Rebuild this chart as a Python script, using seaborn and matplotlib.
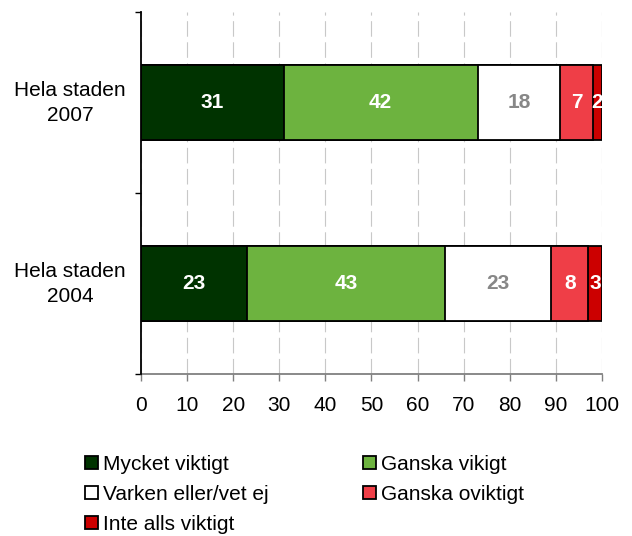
import matplotlib
matplotlib.use("Agg")
import matplotlib.pyplot as plt
from matplotlib.patches import Patch
from matplotlib.transforms import ScaledTranslation
import seaborn as sns
import pandas as pd
import numpy as np

categories = ["Hela staden\n2007", "Hela staden\n2004"]
series = ["Mycket viktigt", "Ganska vikigt", "Varken eller/vet ej",
          "Ganska oviktigt", "Inte alls viktigt"]
mycket = [31, 23]
ganska = [42, 43]
varken = [18, 23]
oviktigt = [7, 8]
inte = [2, 3]
x_ticks = [0, 10, 20, 30, 40, 50, 60, 70, 80, 90, 100]

colors = ["#003300", "#6DB33F", "#FFFFFF", "#EF3E47", "#CC0000"]
label_colors = ["white", "white", "#878787", "white", "white"]

values = [mycket, ganska, varken, oviktigt, inte]
rows = []
for s, vals in zip(series, values):
    for c, v in zip(categories, vals):
        rows.append({"series": s, "cat": c, "value": v})
df = pd.DataFrame(rows)
df["cum"] = df.groupby("cat")["value"].cumsum()
df["start"] = df["cum"] - df["value"]

sns.set_theme(style="white")
plt.rcParams["font.family"] = ["Liberation Sans", "DejaVu Sans"]
plt.rcParams["text.color"] = "black"

fig = plt.figure(figsize=(6.32, 5.36), dpi=100)
ax = fig.add_axes([0.2231, 0.3022, 0.7294, 0.6754])

for s, col in reversed(list(zip(series, colors))):
    sub = df[df["series"] == s]
    sns.barplot(data=sub, x="cum", y="cat", order=categories, orient="h",
                color=col, saturation=1, edgecolor="black", linewidth=1.3,
                width=0.41, errorbar=None, ax=ax, zorder=3)

for i, (s, lc) in enumerate(zip(series, label_colors)):
    sub = df[df["series"] == s]
    for _, r in sub.iterrows():
        yi = categories.index(r["cat"])
        ax.text(r["start"] + r["value"] / 2, yi, str(r["value"]), ha="center",
                va="center", color=lc, fontsize=15, fontweight="bold", zorder=5)

ax.set_xlim(0, 100)
ax.set_ylim(1.5, -0.5)
ax.set_xticks(x_ticks)
ax.set_xticklabels([str(t) for t in x_ticks])
ax.set_xlabel("")
ax.set_ylabel("")

ax.set_axisbelow(True)
ax.xaxis.grid(True, color="#C8C8C8", linestyle=(0, (14, 5)), linewidth=0.8)
ax.yaxis.grid(False)

for sp in ["top", "right"]:
    ax.spines[sp].set_visible(False)
ax.spines["left"].set_color("black")
ax.spines["left"].set_linewidth(1.3)
ax.spines["left"].set_zorder(6)
ax.spines["bottom"].set_color("#808080")
ax.spines["bottom"].set_linewidth(1.3)

ax.tick_params(axis="x", which="major", bottom=True, length=5, width=1,
               color="#808080", labelsize=15, labelcolor="black", pad=11)
ax.tick_params(axis="y", which="major", left=False, length=0, labelsize=15,
               labelcolor="black", pad=11)
ax.set_yticks([-0.5, 0.5, 1.5], minor=True)
ax.tick_params(axis="y", which="minor", left=True, length=4, width=1,
               color="black")
for lbl in ax.get_yticklabels():
    lbl.set_multialignment("center")
    lbl.set_linespacing(1.45)
    lbl.set_transform(lbl.get_transform()
                      + ScaledTranslation(0, 0.05, fig.dpi_scale_trans))

handles = [Patch(facecolor=c, edgecolor="black", linewidth=1.3) for c in colors]
order = [0, 2, 4, 1, 3]
leg = fig.legend([handles[i] for i in order], [series[i] for i in order],
                 loc="upper left", bbox_to_anchor=(0.1345, 0.1511), ncol=2,
                 frameon=False, fontsize=15, handlelength=0.63,
                 handleheight=0.63, handletextpad=0.25, labelspacing=0.52,
                 columnspacing=4.5, borderaxespad=0, borderpad=0)
for t in leg.get_texts():
    t.set_color("black")

fig.savefig("out.png", dpi=100)
